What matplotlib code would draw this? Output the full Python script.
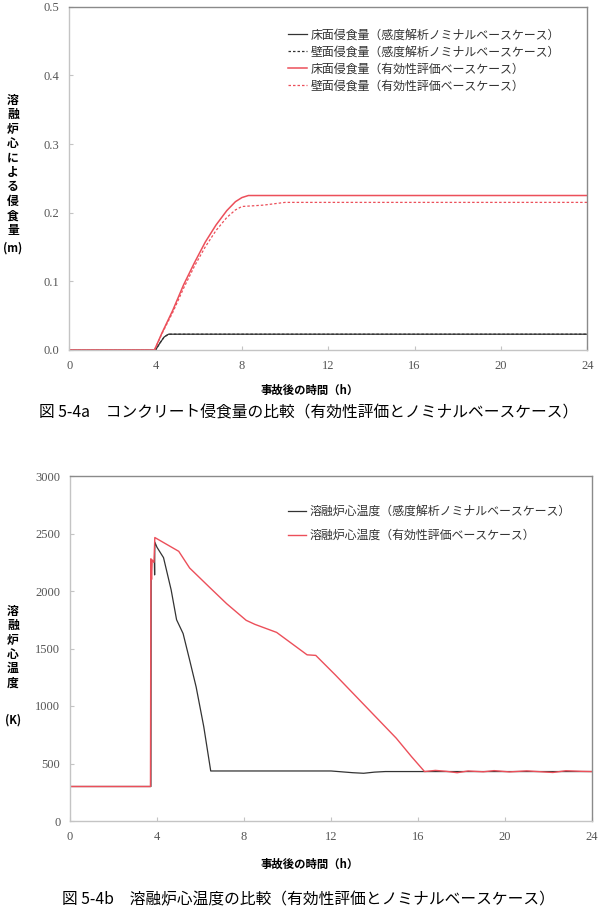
import matplotlib
matplotlib.use("Agg")
import matplotlib.pyplot as plt

plt.rcParams['font.family'] = ['Noto Sans CJK JP', 'DejaVu Sans']

# --- 図 5-4a: コンクリート侵食量 ---
t_floor_nom = [0, 4.0, 4.2, 4.4, 4.6, 24]
floor_nom = [0, 0, 0.010, 0.019, 0.023, 0.023]
t_wall_nom = [0, 4.0, 4.2, 4.4, 4.6, 24]
wall_nom = [0, 0, 0.010, 0.019, 0.023, 0.023]

t_floor_eff = [0, 3.95, 4.3, 4.8, 5.3, 5.8, 6.3, 6.8, 7.3, 7.7, 8.0, 8.3, 24]
floor_eff = [0, 0, 0.025, 0.058, 0.095, 0.127, 0.157, 0.182, 0.203, 0.216, 0.222, 0.225, 0.225]
t_wall_eff = [0, 3.95, 4.3, 4.8, 5.3, 5.8, 6.3, 6.8, 7.3, 7.7, 8.0, 8.5, 9.0, 9.5, 10.0, 24]
wall_eff = [0, 0, 0.024, 0.055, 0.090, 0.122, 0.150, 0.174, 0.193, 0.204, 0.209, 0.210, 0.211, 0.213, 0.215, 0.215]

labels_a = ["床面侵食量（感度解析ノミナルベースケース）",
            "壁面侵食量（感度解析ノミナルベースケース）",
            "床面侵食量（有効性評価ベースケース）",
            "壁面侵食量（有効性評価ベースケース）"]

# --- 図 5-4b: 溶融炉心温度 ---
t_temp_nom = [0, 3.72, 3.73, 3.88, 3.89, 3.90, 4.0, 4.3, 4.65, 4.9, 5.2, 5.5, 5.8,
              6.15, 6.47, 12.0, 13.0, 13.5, 14.0, 14.5, 24]
temp_nom = [300, 300, 2270, 2250, 2140, 2425, 2380, 2290, 2010, 1750, 1630, 1400, 1165,
            820, 435, 435, 420, 415, 425, 430, 430]

t_temp_eff = [0, 3.70, 3.72, 3.75, 3.78, 3.86, 3.90, 5.0, 5.5, 6.4, 7.2, 8.1, 8.5, 9.5,
              10.9, 11.3, 12.2, 13.6, 15.0, 15.7, 16.3, 16.8, 17.3, 17.8, 18.3, 19.0,
              19.5, 20.2, 21.0, 21.5, 22.2, 22.8, 23.5, 24]
temp_eff = [300, 300, 2280, 2100, 2270, 2250, 2465, 2345, 2200, 2035, 1890, 1745, 1710, 1640,
            1445, 1440, 1270, 995, 720, 560, 430, 440, 432, 420, 435, 428,
            438, 427, 436, 430, 422, 437, 432, 430]

labels_b = ["溶融炉心温度（感度解析ノミナルベースケース）",
            "溶融炉心温度（有効性評価ベースケース）"]

x_ticks = [0, 4, 8, 12, 16, 20, 24]
RED = '#ec4f5a'
BLACK = '#333333'
DOT = (0, (2, 1.6))


def style_axes(ax):
    ax.set_xlim(0, 24)
    ax.set_xticks(x_ticks)
    for side in ['left', 'bottom']:
        ax.spines[side].set_color('#c4c4c4')
    for side in ['top', 'right']:
        ax.spines[side].set_color('#8a8a8a')
    for s in ax.spines.values():
        s.set_linewidth(1.0)
    ax.tick_params(direction='in', length=3, color='#c4c4c4', labelcolor='#555555',
                   labelsize=9, pad=7, labelfontfamily='Liberation Serif')


fig = plt.figure(figsize=(6, 9.11), dpi=100)

# top chart
ax1 = fig.add_axes([69.2 / 600, 1 - 350 / 911, (587.3 - 69.2) / 600, (350 - 6.7) / 911])
ax1.plot(t_floor_nom, floor_nom, color=BLACK, lw=0.9, label=labels_a[0])
ax1.plot(t_wall_nom, wall_nom, color=BLACK, lw=0.9, ls=DOT, label=labels_a[1])
ax1.plot(t_floor_eff, floor_eff, color=RED, lw=1.1, label=labels_a[2])
ax1.plot(t_wall_eff, wall_eff, color=RED, lw=0.9, ls=DOT, label=labels_a[3])
ax1.set_ylim(0, 0.5)
ax1.set_yticks([0, 0.1, 0.2, 0.3, 0.4, 0.5])
ax1.set_yticklabels([f"{v:.1f}" for v in [0, 0.1, 0.2, 0.3, 0.4, 0.5]])
style_axes(ax1)
ax1.legend(loc='upper left', bbox_to_anchor=(0.422, 0.936), frameon=False,
           fontsize=8.6, handlelength=1.6, handletextpad=0.3, labelspacing=0.33,
           borderpad=0, borderaxespad=0, labelcolor='#333333')

# bottom chart
ax2 = fig.add_axes([70 / 600, 1 - 821 / 911, (592 - 70) / 600, (821 - 476) / 911])
ax2.plot(t_temp_nom, temp_nom, color=BLACK, lw=0.9, label=labels_b[0])
ax2.plot(t_temp_eff, temp_eff, color=RED, lw=1.0, label=labels_b[1])
ax2.set_ylim(0, 3000)
ax2.set_yticks([0, 500, 1000, 1500, 2000, 2500, 3000])
style_axes(ax2)
ax2.legend(loc='upper left', bbox_to_anchor=(0.418, 0.916), frameon=False,
           fontsize=8.6, handlelength=1.45, handletextpad=0.3, labelspacing=0.9,
           borderpad=0, borderaxespad=0, labelcolor='#333333')

# axis titles
fig.text(310 / 600, 1 - 390 / 911, "事故後の時間（h）", ha='center', va='center',
         fontsize=8.2, fontweight='bold')
fig.text(310 / 600, 1 - 864 / 911, "事故後の時間（h）", ha='center', va='center',
         fontsize=8.2, fontweight='bold')

fig.text(13 / 600, 1 - 94 / 911, "\n".join("溶融炉心による侵食量"), ha='center', va='top',
         fontsize=8.5, fontweight='bold', linespacing=1.14)
fig.text(13 / 600, 1 - 248 / 911, "(m)", ha='center', va='center',
         fontsize=8, fontweight='bold')
fig.text(13 / 600, 1 - 605 / 911, "\n".join("溶融炉心温度"), ha='center', va='top',
         fontsize=8.5, fontweight='bold', linespacing=1.13)
fig.text(13 / 600, 1 - 720 / 911, "(K)", ha='center', va='center',
         fontsize=8, fontweight='bold')

# captions
fig.text(309 / 600, 1 - 413 / 911, "図 5-4a　コンクリート侵食量の比較（有効性評価とノミナルベースケース）",
         ha='center', va='center', fontsize=11.3)
fig.text(308 / 600, 1 - 900 / 911, "図 5-4b　溶融炉心温度の比較（有効性評価とノミナルベースケース）",
         ha='center', va='center', fontsize=11.3)

fig.savefig("out.png", dpi=100)
